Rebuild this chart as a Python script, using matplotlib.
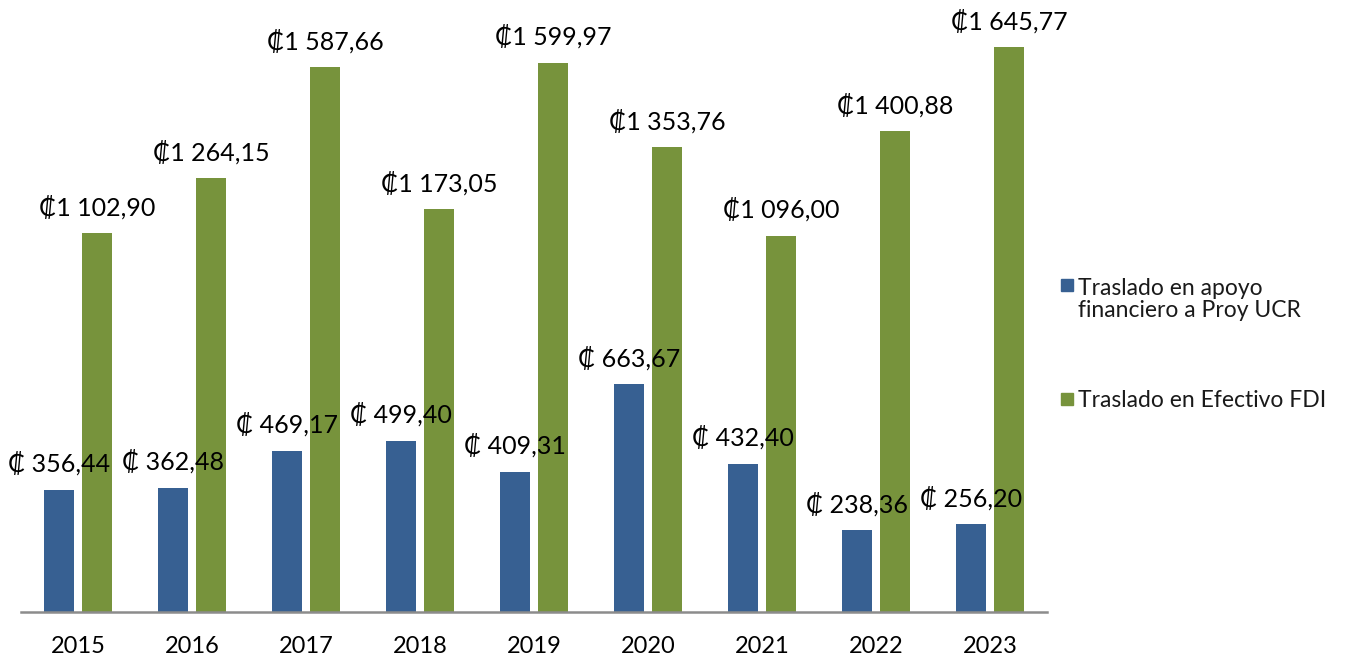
import numpy as np
import matplotlib
import matplotlib.pyplot as plt
from matplotlib.patches import Rectangle
matplotlib.use('Agg')

plt.rcParams['font.family'] = ['Lato', 'DejaVu Sans']

years = ['2015', '2016', '2017', '2018', '2019', '2020', '2021', '2022', '2023']
apoyo_ucr = [356.44, 362.48, 469.17, 499.40, 409.31, 663.67, 432.40, 238.36, 256.20]
efectivo_fdi = [1102.90, 1264.15, 1587.66, 1173.05, 1599.97, 1353.76, 1096.00, 1400.88, 1645.77]
series_names = ['Traslado en apoyo\nfinanciero a Proy UCR', 'Traslado en Efectivo FDI']
colors = ['#376092', '#77933C']


def fmt(v):
    # thousands with a space, decimals with a comma
    s = f"{v:,.2f}"
    return s.replace(',', ' ').replace('.', ',')


fig = plt.figure(figsize=(13.47, 6.57), dpi=100)
ax = fig.add_axes([0.0156, 0.0685, 0.7617, 0.9315])

x = np.arange(len(years))
width = 0.27
offset = 0.167

b1 = ax.bar(x - offset, apoyo_ucr, width, color=colors[0], label=series_names[0])
b2 = ax.bar(x + offset, efectivo_fdi, width, color=colors[1], label=series_names[1])

ax.bar_label(b1, labels=['₡ ' + fmt(v) for v in apoyo_ucr], padding=10, fontsize=18)
ax.bar_label(b2, labels=['₡' + fmt(v) for v in efectivo_fdi], padding=10, fontsize=18)

ax.set_xlim(-0.5, 8.5)
ax.set_ylim(0, 1783)
ax.set_xticks(x, years, fontsize=17)
ax.tick_params(axis='x', length=0, pad=17)
ax.set_yticks([])
for s in ['top', 'right', 'left']:
    ax.spines[s].set_visible(False)
ax.spines['bottom'].set_color('#8c8c8c')
ax.spines['bottom'].set_linewidth(1.8)

# legend drawn by hand so the square sits on the first line of the label
W, H = 1347, 657
legend_rows = [(279, 317), (393, 407)]  # square top, last-line baseline (pixels)
for name, col, (sq_top, base) in zip(series_names, colors, legend_rows):
    fig.patches.append(Rectangle((1061 / W, 1 - (sq_top + 12) / H), 12 / W, 12 / H,
                                 transform=fig.transFigure, color=col))
    fig.text(1078 / W, 1 - base / H, name, fontsize=16.5, va='baseline',
             ha='left', linespacing=1.05, color='#1a1a1a')

plt.savefig('out.png', dpi=100)
